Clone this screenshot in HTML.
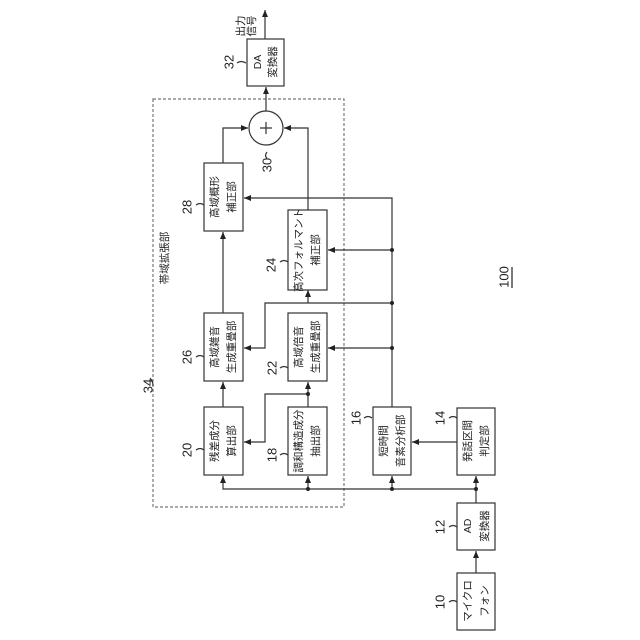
<!DOCTYPE html>
<html><head><meta charset="utf-8"><style>html,body{margin:0;padding:0;background:#fff}svg{display:block}</style></head>
<body>
<svg width="640" height="640" viewBox="0 0 640 640" xmlns="http://www.w3.org/2000/svg" font-family="'Liberation Sans','Noto Sans CJK JP',sans-serif">
<defs><marker id="a" markerWidth="8" markerHeight="8" refX="7" refY="4" orient="auto" markerUnits="userSpaceOnUse"><path d="M0,1 L7,4 L0,7 z" fill="#222"/></marker></defs>
<g fill="none" stroke="#333" stroke-width="1.2">
<rect x="153" y="99" width="191" height="408" stroke-dasharray="3,2" stroke="#777"/>
<rect x="247" y="39" width="37" height="47" fill="#fff"/>
<rect x="204" y="163" width="39" height="68"/>
<rect x="288" y="210" width="39" height="80"/>
<rect x="204" y="313" width="39" height="68"/>
<rect x="288" y="313" width="39" height="68"/>
<rect x="204" y="407" width="39" height="68"/>
<rect x="288" y="407" width="39" height="68"/>
<rect x="373" y="407" width="38" height="68"/>
<rect x="457" y="408" width="38" height="67"/>
<rect x="457" y="503" width="38" height="47"/>
<rect x="457" y="573" width="38" height="57"/>
<circle cx="266" cy="128" r="17"/>
<path d="M260,128h12M266,122v12"/>
<path d="M265,39V10" marker-end="url(#a)"/>
<path d="M266,111V87" marker-end="url(#a)"/>
<path d="M223,163V128H248" marker-end="url(#a)"/>
<path d="M308,210V128H284" marker-end="url(#a)"/>
<path d="M392,407V198H244" marker-end="url(#a)"/>
<path d="M392,250H328" marker-end="url(#a)"/>
<path d="M392,303H265V348H244" marker-end="url(#a)"/>
<path d="M392,348H328" marker-end="url(#a)"/>
<path d="M308,303V290" marker-end="url(#a)"/>
<path d="M223,313V232" marker-end="url(#a)"/>
<path d="M223,407V382" marker-end="url(#a)"/>
<path d="M308,407V382" marker-end="url(#a)"/>
<path d="M308,394H265V442H244" marker-end="url(#a)"/>
<path d="M457,442H412" marker-end="url(#a)"/>
<path d="M476,489H223V476" marker-end="url(#a)"/>
<path d="M308,489V476" marker-end="url(#a)"/>
<path d="M392,489V476" marker-end="url(#a)"/>
<path d="M476,503V476" marker-end="url(#a)"/>
<path d="M476,573V551" marker-end="url(#a)"/>
<path d="M196,205q4,-3 8,0M196,357q4,-3 8,0M196,450q4,-3 8,0M280,262q4,-3 8,0M280,368q4,-3 8,0M280,455q4,-3 8,0M364,418q4,-3 8,0M449,418q4,-3 8,0M449,527q4,-3 8,0M449,602q4,-3 8,0M237,63q4,-3 9,0M267,152q-3,4 0,6M150,378q3,3 3,8"/>
</g>
<g fill="#222"><circle cx="392" cy="250" r="2"/><circle cx="392" cy="303" r="2"/><circle cx="392" cy="348" r="2"/><circle cx="308" cy="394" r="2"/><circle cx="308" cy="489" r="2"/><circle cx="392" cy="489" r="2"/><circle cx="476" cy="489" r="2"/></g>
<g fill="#222" font-size="10.5" text-anchor="middle" dominant-baseline="central">
<text transform="translate(241,26) rotate(-90)">出力</text>
<text transform="translate(252,26) rotate(-90)">信号</text>
<text transform="translate(258,62) rotate(-90)">DA</text>
<text transform="translate(273,62) rotate(-90)">変換器</text>
<text transform="translate(215,197) rotate(-90)">高域概形</text>
<text transform="translate(232,197) rotate(-90)">補正部</text>
<text transform="translate(299,250) rotate(-90)">高次フォルマント</text>
<text transform="translate(316,250) rotate(-90)">補正部</text>
<text transform="translate(215,347) rotate(-90)">高域雑音</text>
<text transform="translate(232,347) rotate(-90)">生成重畳部</text>
<text transform="translate(299,347) rotate(-90)">高域倍音</text>
<text transform="translate(316,347) rotate(-90)">生成重畳部</text>
<text transform="translate(215,441) rotate(-90)">残差成分</text>
<text transform="translate(232,441) rotate(-90)">算出部</text>
<text transform="translate(299,441) rotate(-90)">調和構造成分</text>
<text transform="translate(316,441) rotate(-90)">抽出部</text>
<text transform="translate(384,441) rotate(-90)">短時間</text>
<text transform="translate(401,441) rotate(-90)">音素分析部</text>
<text transform="translate(468,441) rotate(-90)">発話区間</text>
<text transform="translate(485,441) rotate(-90)">判定部</text>
<text transform="translate(468,526) rotate(-90)">AD</text>
<text transform="translate(485,526) rotate(-90)">変換器</text>
<text transform="translate(468,601) rotate(-90)">マイクロ</text>
<text transform="translate(485,601) rotate(-90)">フォン</text>
<text transform="translate(165,258) rotate(-90)">帯域拡張部</text>
</g>
<g fill="#222" font-size="13" text-anchor="middle" dominant-baseline="central">
<text transform="translate(229,62) rotate(-90)">32</text>
<text transform="translate(267,165) rotate(-90)">30</text>
<text transform="translate(187,207) rotate(-90)">28</text>
<text transform="translate(271,265) rotate(-90)">24</text>
<text transform="translate(187,357) rotate(-90)">26</text>
<text transform="translate(272,368) rotate(-90)">22</text>
<text transform="translate(187,450) rotate(-90)">20</text>
<text transform="translate(272,455) rotate(-90)">18</text>
<text transform="translate(356,418) rotate(-90)">16</text>
<text transform="translate(440,418) rotate(-90)">14</text>
<text transform="translate(440,527) rotate(-90)">12</text>
<text transform="translate(440,602) rotate(-90)">10</text>
<text transform="translate(148,386) rotate(-90)">34</text>
<text transform="translate(504,277) rotate(-90)">100</text>
</g>
<path d="M512,267V288" stroke="#222" stroke-width="1.2"/>
</svg>
</body></html>
